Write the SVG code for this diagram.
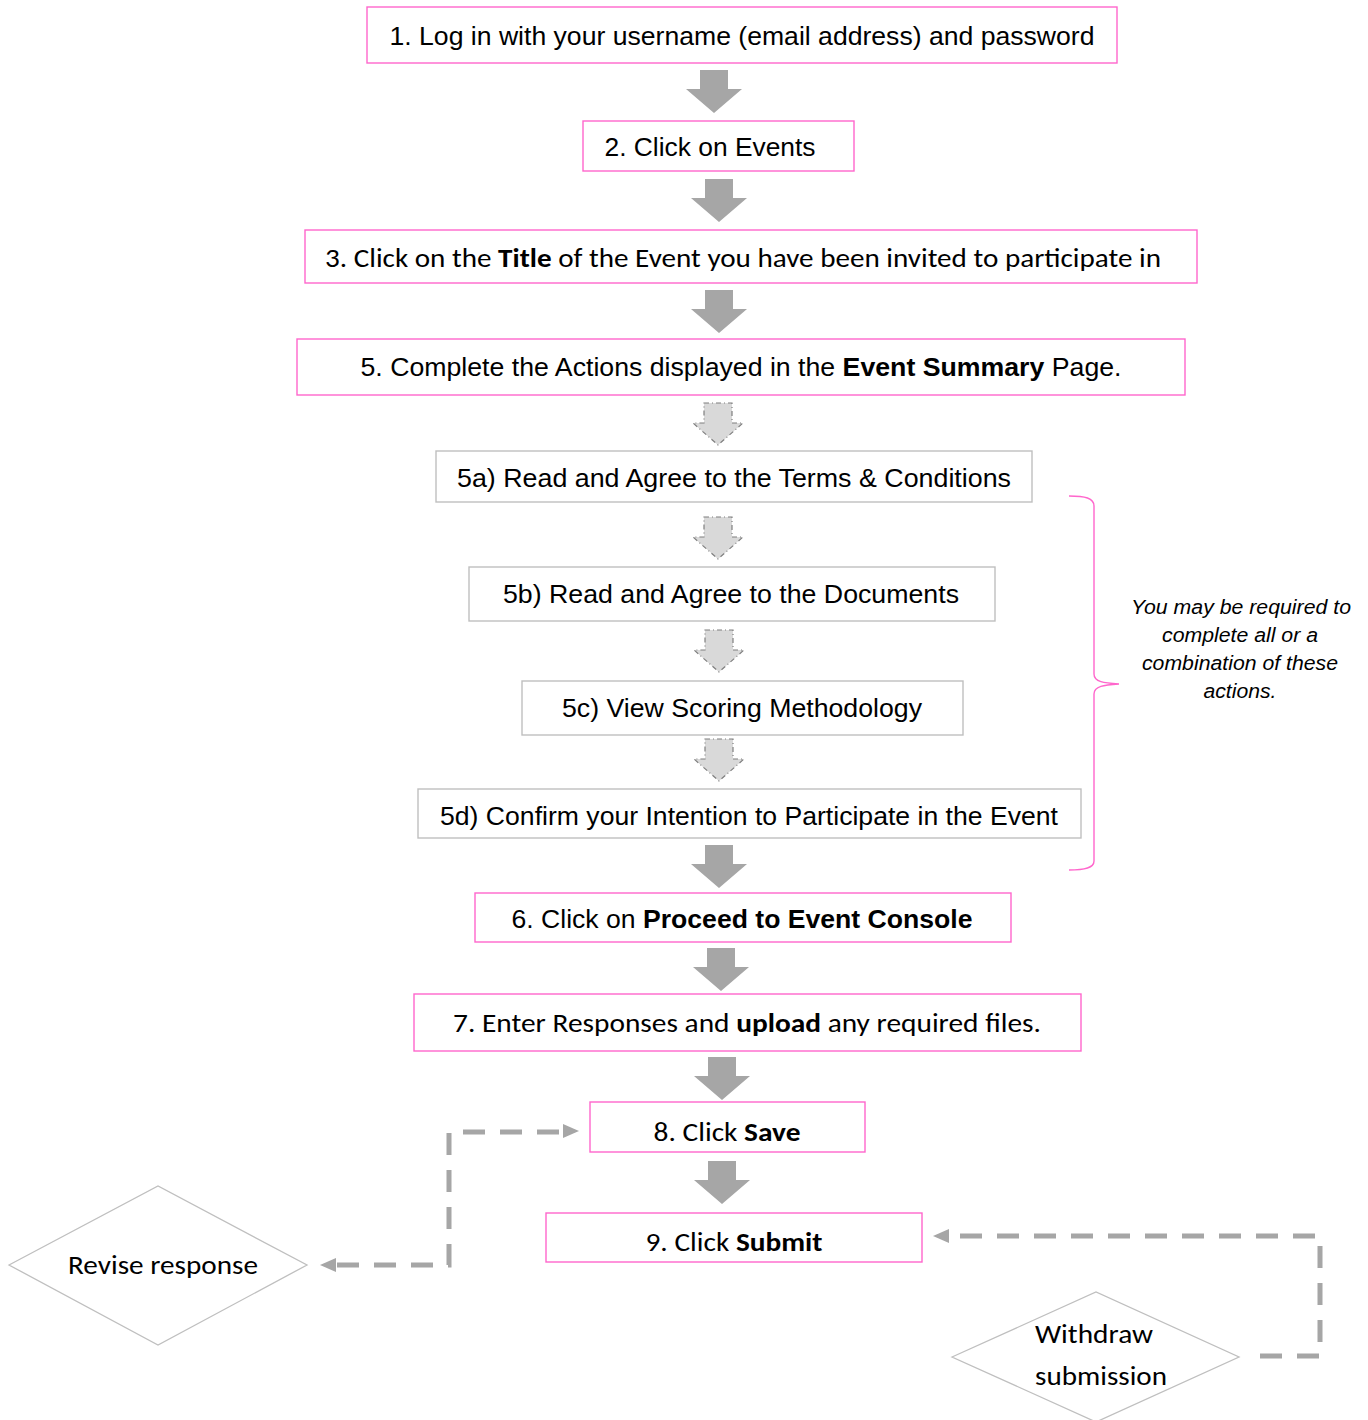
<svg xmlns="http://www.w3.org/2000/svg" width="1368" height="1420" viewBox="0 0 1368 1420">
<style>
.pk{fill:#fff;stroke:#FF66CC;stroke-width:1.4}
.gy{fill:#fff;stroke:#BFBFBF;stroke-width:1.4}
.dm{fill:#fff;stroke:#BFBFBF;stroke-width:1.3}
.a{font-family:"Liberation Sans",Arial,sans-serif;font-size:25px;fill:#000}
.c{font-family:Carlito,Calibri,Lato,"Open Sans",sans-serif;font-size:26px;fill:#000}
.b{font-weight:bold}
.it{font-family:"Liberation Sans",Arial,sans-serif;font-size:20px;font-style:italic;fill:#000}
.sa{fill:#A6A6A6}
.da{fill:#D9D9D9;stroke:#7F7F7F;stroke-width:1.2;stroke-dasharray:5,3,1,3}
.dc{fill:none;stroke:#A6A6A6;stroke-width:5;stroke-dasharray:22,15}
.brace{fill:none;stroke:#FF66CC;stroke-width:1.4}
</style>
<defs>
<path id="solid" class="sa" d="M-14,0 H14 V19 H28 L0,43 L-28,19 H-14 Z"/>
<path id="dash" class="da" d="M-14,0 H14 V20 H25 L0,42 L-25,20 H-14 Z"/>
</defs>

<g id="connectors">
<use href="#solid" x="714" y="70"/>
<use href="#solid" x="719" y="179"/>
<use href="#solid" x="719" y="290"/>
<use href="#dash" x="718" y="403"/>
<use href="#dash" x="718" y="517"/>
<use href="#dash" x="719" y="630"/>
<use href="#dash" x="719" y="739"/>
<use href="#solid" x="719" y="845"/>
<use href="#solid" x="721" y="948"/>
<use href="#solid" x="722" y="1057"/>
<use href="#solid" x="722" y="1161"/>
<path class="dc" d="M337,1265 H449 V1132 H563"/>
<path class="sa" d="M320,1265 L336,1258 L336,1272 Z"/>
<path class="sa" d="M579,1131 L563,1124 L563,1138 Z"/>
<path class="dc" d="M1260,1356 H1320 V1236 H950"/>
<path class="sa" d="M933,1236 L949,1229 L949,1243 Z"/>
</g>

<g id="n1"><rect class="pk" x="367" y="7" width="750" height="56"/><text class="a" x="742" y="45" text-anchor="middle" textLength="705" lengthAdjust="spacingAndGlyphs">1. Log in with your username (email address) and password</text></g>
<g id="n2"><rect class="pk" x="583" y="121" width="271" height="50"/><text class="a" x="710" y="156" text-anchor="middle" textLength="211" lengthAdjust="spacingAndGlyphs">2. Click on Events</text></g>
<g id="n3"><rect class="pk" x="305" y="230" width="892" height="53"/><text class="c" x="743" y="267" text-anchor="middle" textLength="836" lengthAdjust="spacingAndGlyphs">3. Click on the <tspan class="b">Title</tspan> of the Event you have been invited to participate in</text></g>
<g id="n5"><rect class="pk" x="297" y="339" width="888" height="56"/><text class="a" x="741" y="376" text-anchor="middle" textLength="761" lengthAdjust="spacingAndGlyphs">5. Complete the Actions displayed in the <tspan class="b">Event Summary</tspan> Page.</text></g>
<g id="n5a"><rect class="gy" x="436" y="451" width="596" height="51"/><text class="a" x="734" y="487" text-anchor="middle" textLength="554" lengthAdjust="spacingAndGlyphs">5a) Read and Agree to the Terms &amp; Conditions</text></g>
<g id="n5b"><rect class="gy" x="469" y="567" width="526" height="54"/><text class="a" x="731" y="603" text-anchor="middle" textLength="456" lengthAdjust="spacingAndGlyphs">5b) Read and Agree to the Documents</text></g>
<g id="n5c"><rect class="gy" x="522" y="681" width="441" height="54"/><text class="a" x="742" y="717" text-anchor="middle" textLength="360" lengthAdjust="spacingAndGlyphs">5c) View Scoring Methodology</text></g>
<g id="n5d"><rect class="gy" x="418" y="789" width="663" height="49"/><text class="a" x="749" y="825" text-anchor="middle" textLength="618" lengthAdjust="spacingAndGlyphs">5d) Confirm your Intention to Participate in the Event</text></g>
<g id="n6"><rect class="pk" x="475" y="893" width="536" height="49"/><text class="a" x="742" y="928" text-anchor="middle" textLength="461" lengthAdjust="spacingAndGlyphs">6. Click on <tspan class="b">Proceed to Event Console</tspan></text></g>
<g id="n7"><rect class="pk" x="414" y="994" width="667" height="57"/><text class="c" x="747" y="1032" text-anchor="middle" textLength="588" lengthAdjust="spacingAndGlyphs">7. Enter Responses and <tspan class="b">upload</tspan> any required files.</text></g>
<g id="n8"><rect class="pk" x="590" y="1102" width="275" height="50"/><text class="c" x="727" y="1141" text-anchor="middle" textLength="147" lengthAdjust="spacingAndGlyphs">8. Click <tspan class="b">Save</tspan></text></g>
<g id="n9"><rect class="pk" x="546" y="1213" width="376" height="49"/><text class="c" x="734" y="1251" text-anchor="middle" textLength="177" lengthAdjust="spacingAndGlyphs">9. Click <tspan class="b">Submit</tspan></text></g>

<g id="brace"><path class="brace" d="M1069,496 C1085,496 1094,498 1094,506 V674 C1094,682 1104,683 1119,684 C1104,685 1094,686 1094,694 V861 C1094,868 1085,870 1069,870"/></g>
<g id="note">
<text class="it" x="1241" y="614" text-anchor="middle" textLength="220" lengthAdjust="spacingAndGlyphs">You may be required to</text>
<text class="it" x="1240" y="642" text-anchor="middle" textLength="156" lengthAdjust="spacingAndGlyphs">complete all or a</text>
<text class="it" x="1240" y="670" text-anchor="middle" textLength="196" lengthAdjust="spacingAndGlyphs">combination of these</text>
<text class="it" x="1240" y="698" text-anchor="middle" textLength="73" lengthAdjust="spacingAndGlyphs">actions.</text>
</g>

<g id="revise"><polygon class="dm" points="9,1265 158,1186 307,1265 158,1345"/><text class="c" x="163" y="1274" text-anchor="middle" textLength="190" lengthAdjust="spacingAndGlyphs">Revise response</text></g>
<g id="withdraw"><polygon class="dm" points="952,1357 1096,1292 1239,1357 1096,1422"/><text class="c" x="1035" y="1343" textLength="118" lengthAdjust="spacingAndGlyphs">Withdraw</text><text class="c" x="1035" y="1385" textLength="132" lengthAdjust="spacingAndGlyphs">submission</text></g>
</svg>
